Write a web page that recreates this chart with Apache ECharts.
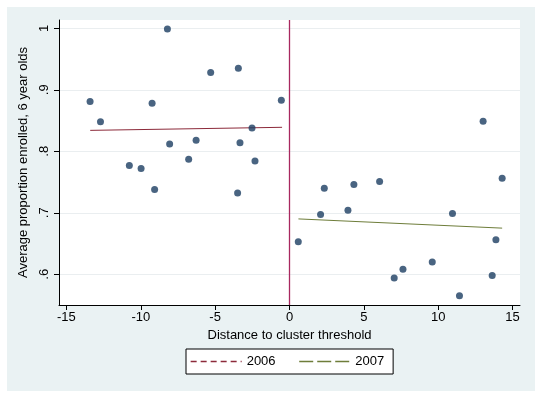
<!DOCTYPE html>
<html>
<head>
<meta charset="utf-8">
<script src="https://cdn.jsdelivr.net/npm/echarts@6/dist/echarts.min.js"></script>
<style>
  html, body { margin: 0; padding: 0; background: #fff; }
  #chart { width: 541px; height: 397px; }
</style>
</head>
<body>
<div id="chart"></div>
<script>
// 散点数据：阈值左侧（2006）
const left2006 = [
  [-13.41, 0.881], [-12.71, 0.848], [-10.77, 0.777], [-9.98, 0.772],
  [-9.24, 0.878], [-9.07, 0.738], [-8.21, 0.999], [-8.06, 0.812],
  [-6.78, 0.787], [-6.28, 0.818], [-5.30, 0.928], [-3.44, 0.935],
  [-3.49, 0.732], [-3.33, 0.814], [-2.52, 0.838], [-2.32, 0.784],
  [-0.55, 0.883]
];
// 散点数据：阈值右侧（2007）
const right2007 = [
  [0.59, 0.653], [2.09, 0.697], [2.34, 0.740], [3.93, 0.704],
  [4.33, 0.746], [6.06, 0.751], [7.04, 0.594], [7.63, 0.608],
  [9.60, 0.620], [10.96, 0.699], [11.43, 0.565], [13.02, 0.849],
  [13.63, 0.598], [13.88, 0.656], [14.30, 0.756]
];
// 拟合线
const fit2006 = [[-13.4, 0.834], [-0.5, 0.839]];
const fit2007 = [[0.6, 0.690], [14.3, 0.675]];
// 刻度
const xTicks = [-15, -10, -5, 0, 5, 10, 15];
const yTicks = [0.6, 0.7, 0.8, 0.9, 1];
const threshold = 0;
const yRange = [0.55, 1.0135];

const font = "'Liberation Sans', Arial, sans-serif";
const color2006 = "#8c2a3a";
const color2007 = "#6e7d3a";
const chart = echarts.init(document.getElementById("chart"));

chart.setOption({
  backgroundColor: "#ffffff",
  animation: false,
  graphic: [
    {
      type: "rect",
      z: -100,
      silent: true,
      shape: { x: 7, y: 7, width: 528, height: 384 },
      style: { fill: "#eaf2f3" }
    }
  ],
  grid: {
    left: 59,
    right: 21,
    top: 20,
    bottom: 92,
    show: true,
    backgroundColor: "#ffffff",
    borderWidth: 0
  },
  legend: {
    left: 186,
    top: 349,
    padding: [6, 9, 6, 4],
    itemGap: 23,
    itemWidth: 51,
    itemHeight: 10,
    backgroundColor: "#ffffff",
    borderColor: "#000000",
    borderWidth: 1,
    textStyle: { fontFamily: font, fontSize: 13, color: "#000" },
    data: [
      { name: "2006", itemStyle: { opacity: 0 }, lineStyle: { type: [6, 4], width: 1.3, color: color2006 } },
      { name: "2007", itemStyle: { opacity: 0 }, lineStyle: { type: [14, 4], width: 1.3, color: color2007 } }
    ]
  },
  xAxis: {
    type: "value",
    min: -15.5,
    max: 15.5,
    name: "Distance to cluster threshold",
    nameLocation: "middle",
    nameGap: 23,
    nameTextStyle: { fontFamily: font, fontSize: 13, color: "#000" },
    axisLine: { show: true, onZero: false, lineStyle: { color: "#000", width: 1 } },
    axisTick: { show: true, length: 5, customValues: xTicks, lineStyle: { color: "#000" } },
    axisLabel: {
      customValues: xTicks,
      fontFamily: font,
      fontSize: 13,
      color: "#000",
      margin: 6,
      formatter: v => String(v)
    },
    splitLine: { show: false }
  },
  yAxis: {
    type: "value",
    position: "left",
    min: yRange[0],
    max: yRange[1],
    name: "Average proportion enrolled, 6 year olds",
    nameLocation: "middle",
    nameRotate: 90,
    nameGap: 23,
    nameTextStyle: { fontFamily: font, fontSize: 13, color: "#000" },
    axisLine: { show: true, onZero: false, lineStyle: { color: "#000", width: 1 } },
    axisTick: { show: true, length: 5, customValues: yTicks, lineStyle: { color: "#000" } },
    axisLabel: {
      customValues: yTicks,
      rotate: 90,
      fontFamily: font,
      fontSize: 13,
      color: "#000",
      margin: 8,
      formatter: v => (v >= 1 ? "1" : String(Math.round(v * 10) / 10).replace(/^0/, ""))
    },
    splitLine: { show: true, lineStyle: { color: "#eaeef0", width: 1 } }
  },
  series: [
    {
      name: "threshold",
      type: "line",
      data: [[threshold, yRange[0]], [threshold, yRange[1]]],
      symbol: "none",
      silent: true,
      color: "#a8285f",
      lineStyle: { color: "#a8285f", width: 1.3 },
      z: 5
    },
    {
      name: "left",
      type: "scatter",
      data: left2006,
      symbolSize: 7,
      itemStyle: { color: "#1c3d61" },
      z: 3
    },
    {
      name: "right",
      type: "scatter",
      data: right2007,
      symbolSize: 7,
      itemStyle: { color: "#1c3d61" },
      z: 3
    },
    {
      name: "2006",
      type: "line",
      data: fit2006,
      symbol: "none",
      color: color2006,
      lineStyle: { color: color2006, width: 1 },
      z: 2
    },
    {
      name: "2007",
      type: "line",
      data: fit2007,
      symbol: "none",
      color: color2007,
      lineStyle: { color: color2007, width: 1 },
      z: 2
    }
  ]
});
</script>
</body>
</html>
